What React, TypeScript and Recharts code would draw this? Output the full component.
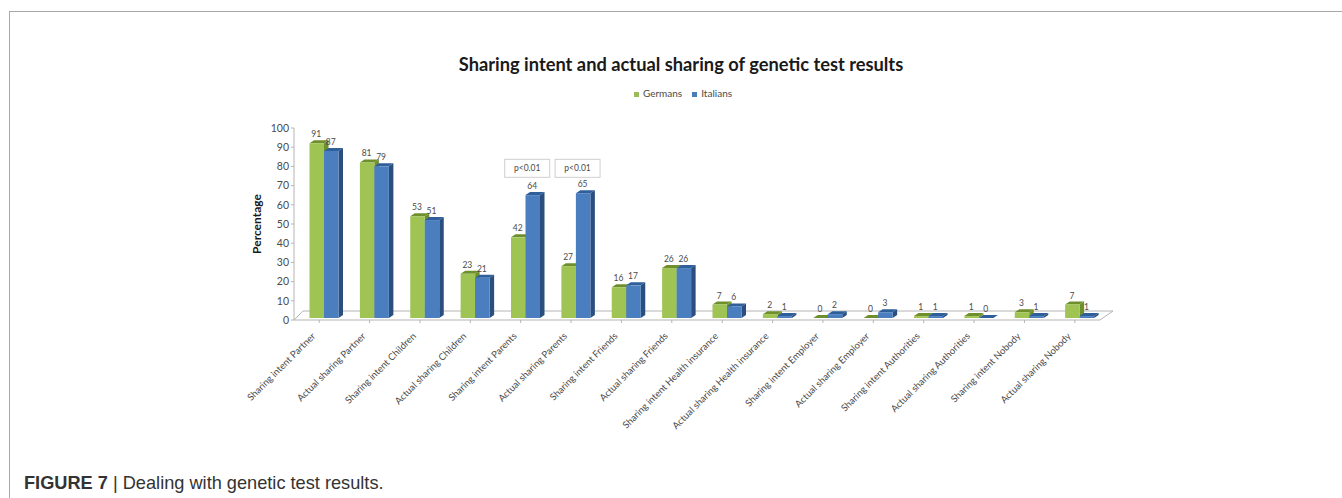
import { Bar, BarChart, LabelList, Legend, ReferenceDot, XAxis, YAxis, usePlotArea } from 'recharts';

const categories = [
  'Sharing intent Partner',
  'Actual sharing Partner',
  'Sharing intent Children',
  'Actual sharing Children',
  'Sharing intent Parents',
  'Actual sharing Parents',
  'Sharing intent Friends',
  'Actual sharing Friends',
  'Sharing intent Health insurance',
  'Actual sharing Health insurance',
  'Sharing intent Employer',
  'Actual sharing Employer',
  'Sharing intent Authorities',
  'Actual sharing Authorities',
  'Sharing intent Nobody',
  'Actual sharing Nobody',
];
const germans = [91, 81, 53, 23, 42, 27, 16, 26, 7, 2, 0, 0, 1, 1, 3, 7];
const italians = [87, 79, 51, 21, 64, 65, 17, 26, 6, 1, 2, 3, 1, 0, 1, 1];
const yTicks = [0, 10, 20, 30, 40, 50, 60, 70, 80, 90, 100];
const pNotes = [
  { category: 'Sharing intent Parents', level: 79, text: 'p<0.01' },
  { category: 'Actual sharing Parents', level: 79, text: 'p<0.01' },
];

const data = categories.map((name, i) => ({ name, germans: germans[i], italians: italians[i] }));

const FONT = 'Lato, "Open Sans", sans-serif';
const TEXT = '#4a4a4a';
const AXIS = '#b4b4b4';
const SHIFT_X = 4.5; // the 3d bars sit right of the category centre
const SHIFT_Y = -2; // and a little above the front edge of the floor
const DEPTH_X = 4.5;
const DEPTH_Y = 3;

const bar3d = (front: string, top: string, side: string) => (props: any) => {
  const x = props.x + SHIFT_X;
  const y = props.y + SHIFT_Y;
  const { width: w, height: h } = props;
  return (
    <g>
      <polygon
        points={`${x},${y} ${x + DEPTH_X},${y - DEPTH_Y} ${x + w + DEPTH_X},${y - DEPTH_Y} ${x + w},${y}`}
        fill={top}
      />
      <polygon
        points={`${x + w},${y} ${x + w + DEPTH_X},${y - DEPTH_Y} ${x + w + DEPTH_X},${y + h - DEPTH_Y} ${x + w},${y + h}`}
        fill={side}
      />
      <rect x={x} y={y} width={w} height={h} fill={front} />
    </g>
  );
};

const valueLabel = (props: any) => (
  <text
    x={props.x + props.width / 2 + SHIFT_X - 0.5}
    y={props.y - 8}
    textAnchor="middle"
    fontSize={8.5}
    fontFamily={FONT}
    fill={TEXT}
  >
    {props.value}
  </text>
);

const pNoteShape = (text: string) => (props: any) => (
  <g>
    <rect x={props.cx - 16} y={props.cy - 9} width={45} height={18} fill="#fff" stroke="#cfcfcf" />
    <text x={props.cx + 6.5} y={props.cy + 3} textAnchor="middle" fontSize={8.5} fontFamily={FONT} fill={TEXT}>
      {text}
    </text>
  </g>
);

// floor of the 3d plot, behind the bars
function Floor() {
  const area = usePlotArea();
  if (!area) return null;
  const left = area.x;
  const right = area.x + area.width;
  const front = area.y + area.height;
  const back = front - 9;
  return (
    <g stroke={AXIS} fill="none">
      <polyline points={`${left},${front} ${left + 9},${back} ${right + 13},${back} ${right},${front}`} />
    </g>
  );
}

const angledTick = (props: any) => (
  <text
    transform={`translate(${props.x - 5},${props.y + 10}) rotate(-45)`}
    textAnchor="end"
    dominantBaseline="middle"
    fontSize={9.5}
    fontFamily={FONT}
    fill={TEXT}
  >
    {props.payload.value}
  </text>
);

export default function App() {
  return (
    <div style={{ position: 'absolute', left: 0, top: 0, width: 1342, height: 498, background: '#fff', overflow: 'hidden' }}>
      <div style={{ position: 'absolute', left: 9, top: 11, width: 1333, height: 487, borderLeft: '1px solid #a8a8a8', borderTop: '1px solid #a8a8a8' }} />
      <div style={{ position: 'absolute', left: 0, width: 1362, top: 53, textAlign: 'center', fontFamily: FONT, fontWeight: 700, fontSize: 18.3, color: '#1a1a1a' }}>
        Sharing intent and actual sharing of genetic test results
      </div>
      <BarChart
        width={1342}
        height={498}
        data={data}
        barSize={14.5}
        barGap={0}
        margin={{ top: 128, right: 242, bottom: 78, left: 254 }}
        style={{ position: 'absolute', left: 0, top: 0 }}
      >
        <Floor />
        <XAxis
          dataKey="name"
          interval={0}
          height={100}
          stroke={AXIS}
          tickSize={3}
          tick={angledTick}
        />
        <YAxis
          domain={[0, 100]}
          ticks={yTicks}
          width={40}
          stroke={AXIS}
          tickSize={3}
          interval={0}
          tick={{ fontSize: 10.5, fontFamily: FONT, fill: TEXT }}
          label={{ value: 'Percentage', angle: -90, position: 'insideLeft', offset: 3, style: { fontSize: 12, fontWeight: 700, fontFamily: FONT, fill: '#1a1a1a', textAnchor: 'middle' } }}
        />
        <Legend
          verticalAlign="middle"
          iconType="square"
          iconSize={5}
          wrapperStyle={{ position: 'absolute', top: 87, left: 583, width: 210, fontSize: 10, fontFamily: FONT, color: TEXT }}
          formatter={(value) => <span style={{ color: TEXT }}>{value}</span>}
        />
        <Bar
          dataKey="germans"
          name="Germans"
          fill="#9BBB59"
          shape={bar3d('#9fc453', '#6f8f2c', '#6f8f2c')}
          isAnimationActive={false}
        >
          <LabelList dataKey="germans" content={valueLabel} />
        </Bar>
        <Bar
          dataKey="italians"
          name="Italians"
          fill="#4A7EBB"
          shape={bar3d('#4a7ebf', '#2f5f9a', '#2a4f7f')}
          isAnimationActive={false}
        >
          <LabelList dataKey="italians" content={valueLabel} />
        </Bar>
        {pNotes.map((note) => (
          <ReferenceDot key={note.category} x={note.category} y={note.level} shape={pNoteShape(note.text)} />
        ))}
      </BarChart>
      <div style={{ position: 'absolute', left: 24, top: 473, fontFamily: '"Liberation Sans", Arial, sans-serif', fontSize: 18.2, color: '#333' }}>
        <b>FIGURE 7</b> | Dealing with genetic test results.
      </div>
    </div>
  );
}
